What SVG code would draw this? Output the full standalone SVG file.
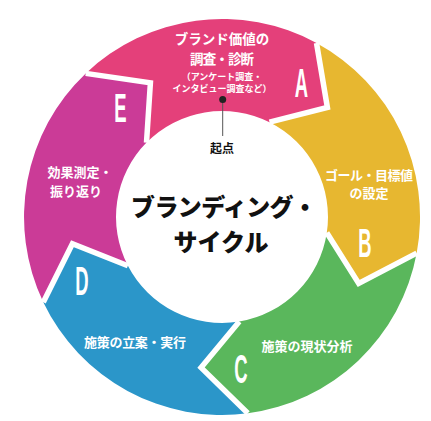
<svg xmlns="http://www.w3.org/2000/svg" width="431" height="421" viewBox="0 0 431 421">
<style>
.lbl{font-family:"Noto Sans CJK JP","Noto Sans",sans-serif;font-weight:700;fill:#fff;text-anchor:middle}
.let{font-family:"Liberation Sans",Arial,sans-serif;font-weight:700;fill:#fff;text-anchor:middle;font-size:41px}
.gap{fill:none;stroke:#fff;stroke-width:5.5;stroke-linejoin:miter;stroke-miterlimit:10}
.ttl{font-family:"Noto Sans CJK JP","Noto Sans",sans-serif;font-weight:900;fill:#111;text-anchor:middle;font-size:24px}
</style>
<rect width="431" height="421" fill="#fff"/>
<g id="segA">
<path fill="#E4407A" d="M85.7,73.4 A198,198 0 0 1 316.5,43.0 L327.4,107.5 L269.5,122.2 A106,106 0 0 0 146.5,142.6 L150.4,82.9 Z"/>
<text class="lbl" x="222" y="44" font-size="13.5">ブランド価値の</text>
<text class="lbl" x="222" y="64" font-size="13.5" textLength="64" lengthAdjust="spacing">調査・診断</text>
<text class="lbl" x="222" y="80" font-size="9">（アンケート調査・</text>
<text class="lbl" x="222" y="92" font-size="9">インタビュー調査など）</text>
<text class="let" transform="translate(301.5,97) scale(0.45,1)">A</text>
</g>
<g id="segB">
<path fill="#E7B730" d="M316.5,43.0 A198,198 0 0 1 416.7,253.1 L358.7,283.4 L326.8,232.8 A106,106 0 0 0 269.5,122.2 L327.4,107.5 Z"/>
<text class="lbl" x="369" y="180" font-size="13" textLength="88" lengthAdjust="spacing">ゴール・目標値</text>
<text class="lbl" x="369" y="198" font-size="13">の設定</text>
<text class="let" transform="translate(365,257) scale(0.45,1)">B</text>
</g>
<g id="segC">
<path fill="#5AB75C" d="M416.7,253.1 A198,198 0 0 1 247.8,413.3 L201.1,367.6 L239.3,321.6 A106,106 0 0 0 326.8,232.8 L358.7,283.4 Z"/>
<text class="lbl" x="307" y="351" font-size="13">施策の現状分析</text>
<text class="let" transform="translate(241,383) scale(0.45,1)">C</text>
</g>
<g id="segD">
<path fill="#2B96C9" d="M247.8,413.3 A198,198 0 0 1 43.3,302.2 L72.4,243.7 L127.9,265.8 A106,106 0 0 0 239.3,321.6 L201.1,367.6 Z"/>
<text class="lbl" x="135" y="347" font-size="13" textLength="102" lengthAdjust="spacing">施策の立案・実行</text>
<text class="let" transform="translate(82,295) scale(0.45,1)">D</text>
</g>
<g id="segE">
<path fill="#CB3B97" d="M43.3,302.2 A198,198 0 0 1 85.7,73.4 L150.4,82.9 L146.5,142.6 A106,106 0 0 0 127.9,265.8 L72.4,243.7 Z"/>
<text class="lbl" x="80" y="177" font-size="13">効果測定・</text>
<text class="lbl" x="76" y="196" font-size="13">振り返り</text>
<text class="let" transform="translate(120.5,122) scale(0.45,1)">E</text>
</g>
<g id="gaps">
<polyline class="gap" points="85.7,73.4 150.4,82.9 146.5,142.6"/>
<polyline class="gap" points="316.5,43.0 327.4,107.5 269.5,122.2"/>
<polyline class="gap" points="416.7,253.1 358.7,283.4 326.8,232.8"/>
<polyline class="gap" points="247.8,413.3 201.1,367.6 239.3,321.6"/>
<polyline class="gap" points="43.3,302.2 72.4,243.7 127.9,265.8"/>
</g>
<g id="connectors">
<line x1="222.7" y1="100" x2="222.7" y2="136" stroke="#555" stroke-width="1"/>
<circle cx="222.7" cy="99.5" r="3.5" fill="#222"/>
</g>
<g id="start">
<text x="222" y="153" font-family="'Noto Sans CJK JP','Noto Sans',sans-serif" font-weight="700" font-size="12" fill="#111" text-anchor="middle">起点</text>
</g>
<g id="title">
<text class="ttl" x="224" y="216" textLength="186" lengthAdjust="spacing">ブランディング・</text>
<text class="ttl" x="221" y="251">サイクル</text>
</g>
</svg>
